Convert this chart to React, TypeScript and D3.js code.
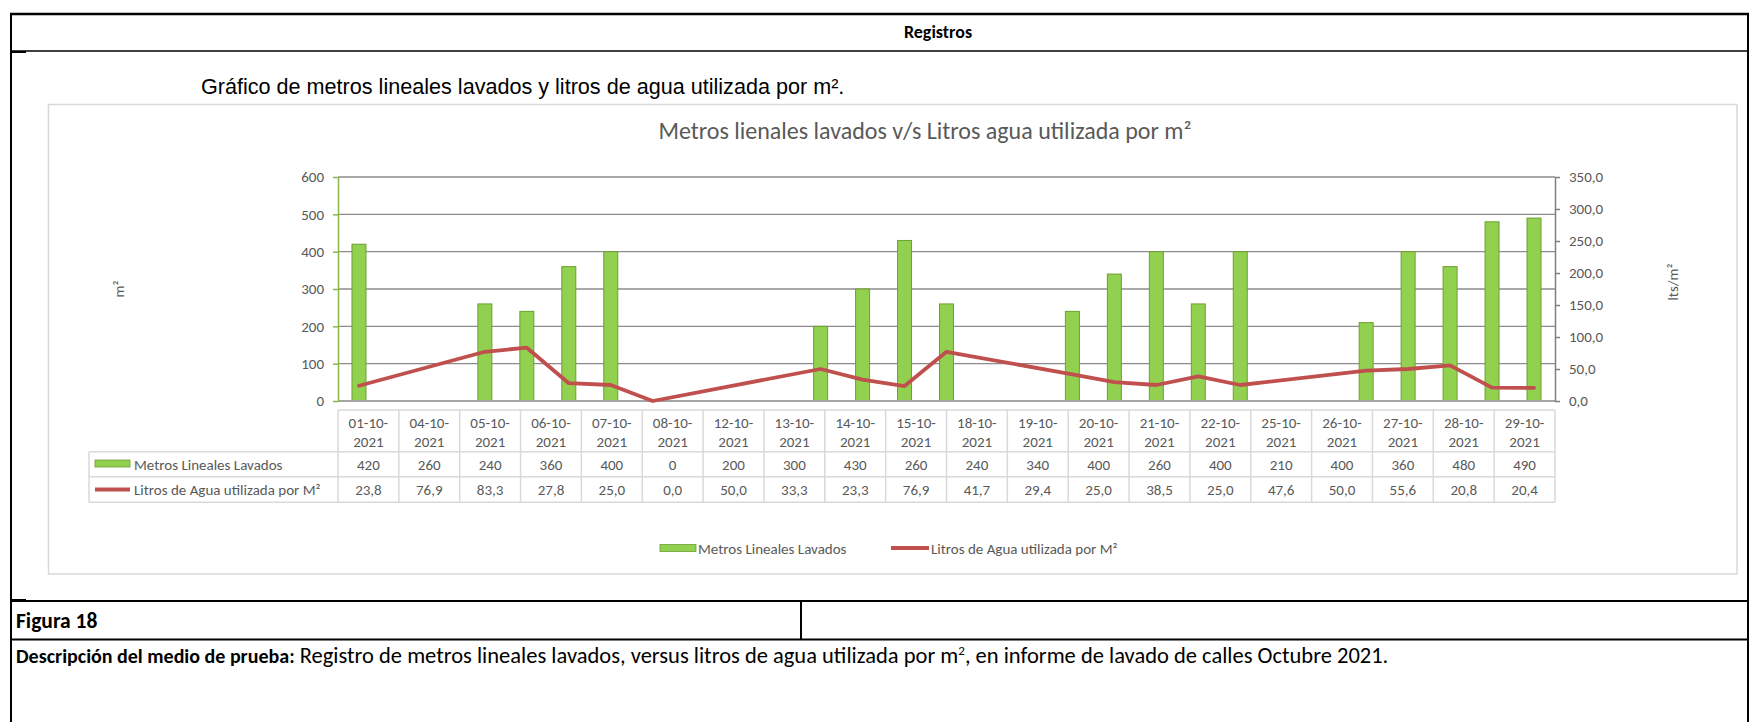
import { useEffect, useRef } from "react";
import * as d3 from "d3";

// Datos (tabla de datos bajo el gráfico)
const fechas = [
    "01-10-2021", "04-10-2021", "05-10-2021", "06-10-2021", "07-10-2021",
    "08-10-2021", "12-10-2021", "13-10-2021", "14-10-2021", "15-10-2021",
    "18-10-2021", "19-10-2021", "20-10-2021", "21-10-2021", "22-10-2021",
    "25-10-2021", "26-10-2021", "27-10-2021", "28-10-2021", "29-10-2021"
];
const metrosLavados = [420, 260, 240, 360, 400, 0, 200, 300, 430, 260, 240, 340, 400, 260, 400, 210, 400, 360, 480, 490];
const litrosPorM2 = [23.8, 76.9, 83.3, 27.8, 25.0, 0.0, 50.0, 33.3, 23.3, 76.9, 41.7, 29.4, 25.0, 38.5, 25.0, 47.6, 50.0, 55.6, 20.8, 20.4];
const ticksIzq = [0, 100, 200, 300, 400, 500, 600];
const ticksDer = [0, 50, 100, 150, 200, 250, 300, 350];

const serieBarras = "Metros Lineales Lavados";
const serieLinea = "Litros de Agua utilizada por M²";
const tituloGrafico = "Metros lienales lavados v/s Litros agua utilizada por m²";
const tituloDoc = "Gráfico de metros lineales lavados y litros de agua utilizada por m².";

const W = 1751;
const H = 722;
const calibri = "Carlito, Calibri, Lato, sans-serif";
const arial = "'Liberation Sans', Arial, sans-serif";
const gris = "#595959";

const es = d3.formatLocale({ decimal: ",", thousands: ".", grouping: [3], currency: ["$", ""] });
const fmt1 = es.format(".1f");

const App = () => {
    const svgRef = useRef<SVGSVGElement>(null);

    useEffect(() => {
        const svg = d3.select(svgRef.current);
        svg.selectAll("*").remove();

        const parse = d3.timeParse("%d-%m-%Y");
        const filas = fechas.map((f, i) => ({
            etiqueta: f,
            fecha: parse(f) as Date,
            metros: metrosLavados[i],
            litros: litrosPorM2[i]
        }));

        // área de trazado
        const plot = { left: 338, right: 1555, top: 177, bottom: 401 };

        const first = filas[0].fecha;
        const last = filas[filas.length - 1].fecha;
        const x = d3
            .scaleTime()
            .domain([d3.timeHour.offset(first, -12), d3.timeHour.offset(last, 12)])
            .range([plot.left, plot.right]);
        const dayW = x(d3.timeDay.offset(first, 1)) - x(first);
        const barW = dayW / 3;

        const yL = d3.scaleLinear().domain([0, 600]).range([plot.bottom, plot.top]);
        const yR = d3.scaleLinear().domain([0, 350]).range([plot.bottom, plot.top]);

        const cols = d3.scaleBand().domain(fechas).range([plot.left, plot.right]);

        // ---- tabla del documento ----
        const doc = svg.append("g").attr("stroke", "#000").attr("fill", "none");
        doc.append("line").attr("x1", 10).attr("x2", 1749).attr("y1", 14).attr("y2", 14).attr("stroke-width", 2.5);
        doc.append("line").attr("x1", 11).attr("x2", 11).attr("y1", 13).attr("y2", H).attr("stroke-width", 2);
        doc.append("line").attr("x1", 1748).attr("x2", 1748).attr("y1", 13).attr("y2", H).attr("stroke-width", 2);
        doc.append("line").attr("x1", 11).attr("x2", 1748).attr("y1", 51).attr("y2", 51).attr("stroke-width", 1.5);
        doc.append("line").attr("x1", 11).attr("x2", 26).attr("y1", 52).attr("y2", 52).attr("stroke-width", 2);
        doc.append("line").attr("x1", 11).attr("x2", 1748).attr("y1", 601).attr("y2", 601).attr("stroke-width", 2);
        doc.append("line").attr("x1", 11).attr("x2", 26).attr("y1", 600).attr("y2", 600).attr("stroke-width", 2);
        doc.append("line").attr("x1", 11).attr("x2", 1748).attr("y1", 639.5).attr("y2", 639.5).attr("stroke-width", 2);
        doc.append("line").attr("x1", 801).attr("x2", 801).attr("y1", 601).attr("y2", 639.5).attr("stroke-width", 2);

        svg.append("text")
            .attr("x", 938).attr("y", 38)
            .attr("text-anchor", "middle")
            .attr("font-family", calibri).attr("font-weight", "bold").attr("font-size", 18)
            .text("Registros");

        svg.append("text")
            .attr("x", 201).attr("y", 94)
            .attr("font-family", arial).attr("font-size", 21.6)
            .text(tituloDoc);

        svg.append("text")
            .attr("x", 16).attr("y", 628)
            .attr("font-family", calibri).attr("font-weight", "bold").attr("font-size", 21.5)
            .text("Figura 18");

        const desc = svg.append("text")
            .attr("x", 16).attr("y", 663)
            .attr("font-family", calibri).attr("font-size", 22.5);
        desc.append("tspan").attr("font-weight", "bold").attr("font-size", 20).text("Descripción del medio de prueba:");
        desc.append("tspan").text(" Registro de metros lineales lavados, versus litros de agua utilizada por m");
        desc.append("tspan").attr("font-size", 13).attr("dy", -8).text("2");
        desc.append("tspan").attr("dy", 8).text(", en informe de lavado de calles Octubre 2021.");

        // ---- tarjeta del gráfico ----
        svg.append("rect")
            .attr("x", 48.5).attr("y", 104.5)
            .attr("width", 1737 - 48.5).attr("height", 574 - 104.5)
            .attr("fill", "#fff").attr("stroke", "#d9d9d9").attr("stroke-width", 1.5);

        svg.append("text")
            .attr("x", 925).attr("y", 139)
            .attr("text-anchor", "middle")
            .attr("font-family", calibri).attr("font-size", 24).attr("fill", gris)
            .text(tituloGrafico);

        // líneas de división
        svg.append("g")
            .selectAll("line")
            .data(ticksIzq.filter((t) => t > 0))
            .join("line")
            .attr("x1", plot.left).attr("x2", plot.right)
            .attr("y1", (d) => yL(d)).attr("y2", (d) => yL(d))
            .attr("stroke", "#8c8c8c").attr("stroke-width", 1.3);

        // barras
        svg.append("g")
            .selectAll("rect")
            .data(filas.filter((d) => d.metros > 0))
            .join("rect")
            .attr("x", (d) => x(d.fecha) - barW / 2)
            .attr("y", (d) => yL(d.metros))
            .attr("width", barW)
            .attr("height", (d) => yL(0) - yL(d.metros))
            .attr("fill", "#92d050")
            .attr("stroke", "#6e9f31")
            .attr("stroke-width", 1);

        // eje horizontal
        svg.append("line")
            .attr("x1", plot.left).attr("x2", plot.right)
            .attr("y1", plot.bottom).attr("y2", plot.bottom)
            .attr("stroke", "#a6a6a6").attr("stroke-width", 2);

        // línea
        const linea = d3
            .line<(typeof filas)[number]>()
            .x((d) => x(d.fecha))
            .y((d) => yR(d.litros));
        svg.append("path")
            .datum(filas)
            .attr("d", linea)
            .attr("fill", "none")
            .attr("stroke", "#c0504d")
            .attr("stroke-width", 3.8)
            .attr("stroke-linejoin", "round")
            .attr("stroke-linecap", "round");

        // ejes
        const ejeIzq = svg.append("g")
            .attr("transform", `translate(${plot.left},0)`)
            .call(d3.axisLeft(yL).tickValues(ticksIzq).tickSize(5).tickPadding(9).tickSizeOuter(0));
        ejeIzq.select(".domain").attr("stroke", "#8ab94a").attr("stroke-width", 1.5);
        ejeIzq.selectAll(".tick line").attr("stroke", "#8ab94a").attr("stroke-width", 1.5);
        ejeIzq.selectAll("text").attr("font-family", calibri).attr("font-size", 15).attr("fill", gris);

        const ejeDer = svg.append("g")
            .attr("transform", `translate(${plot.right},0)`)
            .call(d3.axisRight(yR).tickValues(ticksDer).tickSize(5).tickPadding(9).tickSizeOuter(0).tickFormat((d) => fmt1(d as number)));
        ejeDer.select(".domain").attr("stroke", "#7f7f7f").attr("stroke-width", 1.5);
        ejeDer.selectAll(".tick line").attr("stroke", "#7f7f7f").attr("stroke-width", 1.5);
        ejeDer.selectAll("text").attr("font-family", calibri).attr("font-size", 15).attr("fill", gris);

        // títulos de ejes
        svg.append("text")
            .attr("transform", `translate(124,289) rotate(-90)`)
            .attr("text-anchor", "middle")
            .attr("font-family", calibri).attr("font-size", 15).attr("fill", gris)
            .text("m²");
        svg.append("text")
            .attr("transform", `translate(1678,282) rotate(-90)`)
            .attr("text-anchor", "middle")
            .attr("font-family", calibri).attr("font-size", 15).attr("fill", gris)
            .text("lts/m²");

        // ---- tabla de datos ----
        const tTop = 410;
        const r1 = 451.7;
        const r2 = 476.7;
        const tBot = 502.3;
        const tLeft = 89;
        const tabla = svg.append("g").attr("stroke", "#d9d9d9").attr("stroke-width", 1.5);
        tabla.append("line").attr("x1", plot.left).attr("x2", plot.right).attr("y1", tTop).attr("y2", tTop);
        [r1, r2, tBot].forEach((yy) =>
            tabla.append("line").attr("x1", tLeft).attr("x2", plot.right).attr("y1", yy).attr("y2", yy)
        );
        tabla.append("line").attr("x1", tLeft).attr("x2", tLeft).attr("y1", r1).attr("y2", tBot);
        tabla.selectAll(".col")
            .data([...fechas.map((f) => cols(f) as number), plot.right])
            .join("line")
            .attr("x1", (d) => d).attr("x2", (d) => d)
            .attr("y1", tTop).attr("y2", tBot);

        const txt = svg.append("g")
            .attr("font-family", calibri).attr("font-size", 15).attr("fill", gris)
            .attr("text-anchor", "middle");
        const cx = (f: string) => (cols(f) as number) + cols.bandwidth() / 2;
        txt.selectAll(".f1").data(fechas).join("text")
            .attr("x", cx).attr("y", 428)
            .text((d) => d.slice(0, 6));
        txt.selectAll(".f2").data(fechas).join("text")
            .attr("x", cx).attr("y", 447)
            .text((d) => d.slice(6));
        txt.selectAll(".m").data(filas).join("text")
            .attr("x", (d) => cx(d.etiqueta)).attr("y", 469.5)
            .text((d) => d.metros);
        txt.selectAll(".l").data(filas).join("text")
            .attr("x", (d) => cx(d.etiqueta)).attr("y", 495)
            .text((d) => fmt1(d.litros));

        // claves en la tabla
        svg.append("rect").attr("x", 95).attr("y", 460).attr("width", 35).attr("height", 7)
            .attr("fill", "#92d050").attr("stroke", "#6e9f31").attr("stroke-width", 0.8);
        svg.append("line").attr("x1", 95).attr("x2", 130).attr("y1", 489.5).attr("y2", 489.5)
            .attr("stroke", "#c0504d").attr("stroke-width", 3.8);
        svg.append("text").attr("x", 134).attr("y", 469.5)
            .attr("font-family", calibri).attr("font-size", 15).attr("fill", gris)
            .text(serieBarras);
        svg.append("text").attr("x", 134).attr("y", 495)
            .attr("font-family", calibri).attr("font-size", 15).attr("fill", gris)
            .text(serieLinea);

        // ---- leyenda ----
        const ley = svg.append("g").attr("font-family", calibri).attr("font-size", 15).attr("fill", gris);
        ley.append("rect").attr("x", 660).attr("y", 544.5).attr("width", 36).attr("height", 7)
            .attr("fill", "#92d050").attr("stroke", "#6e9f31").attr("stroke-width", 0.8);
        ley.append("text").attr("x", 698).attr("y", 553.5).text(serieBarras);
        ley.append("line").attr("x1", 891).attr("x2", 929).attr("y1", 548).attr("y2", 548)
            .attr("stroke", "#c0504d").attr("stroke-width", 3.8);
        ley.append("text").attr("x", 931).attr("y", 553.5).text(serieLinea);
    }, []);

    return (
        <svg
            ref={svgRef}
            width={W}
            height={H}
            style={{ position: "absolute", left: 0, top: 0, background: "#fff" }}
        ></svg>
    );
};

export default App;
